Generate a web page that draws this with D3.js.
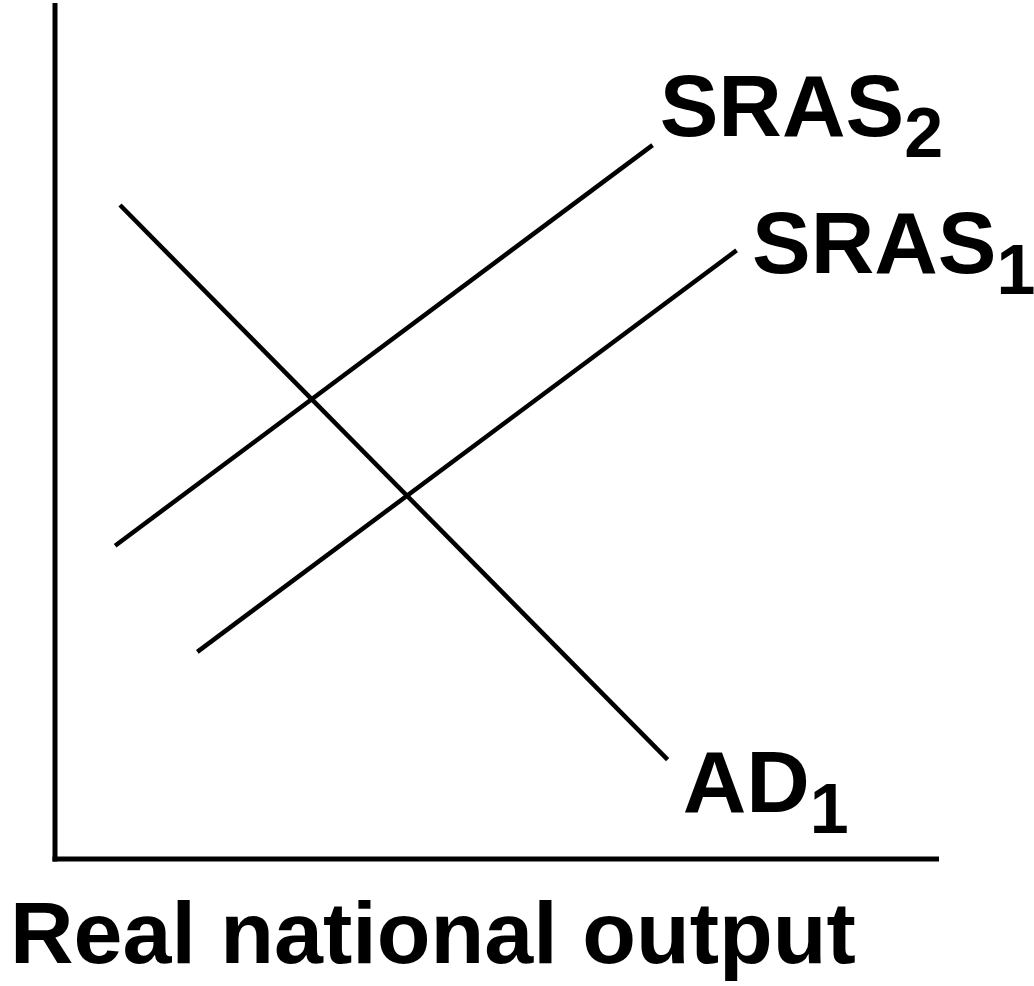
<!DOCTYPE html>
<html>
<head>
<meta charset="utf-8">
<script src="https://cdn.jsdelivr.net/npm/d3@7"></script>
<style>
  html, body { margin: 0; padding: 0; background: #fff; }
  svg { display: block; }
  text { font-family: "Liberation Sans", Arial, sans-serif; font-weight: bold; fill: #000; }
</style>
</head>
<body>
<div id="chart"></div>
<script>
// curves, in 0-100 chart units (x = output, y = price level)
const adCurve = [[7.35, 76.4], [69.3, 11.6]];
const sras2Curve = [[6.8, 36.6], [67.6, 83.4]];
const sras1Curve = [[16.1, 24.2], [77.1, 71.1]];

// labels: [name, subscript, x, y of baseline]
const curveLabels = [
  ["SRAS", "2", 68.4, 84.5],
  ["SRAS", "1", 78.85, 68.4],
  ["AD", "1", 71.0, 5.5]
];
const xTitle = "Real national output";

const svgWidth = 1034, svgHeight = 986;
const svg = d3.select("#chart").append("svg")
  .attr("width", svgWidth)
  .attr("height", svgHeight);

let x = d3.scaleLinear().domain([0, 100]).range([55, 939]);
let y = d3.scaleLinear().domain([0, 100]).range([859, 3]);

// axes as plain lines (no ticks)
svg.append("line")
  .attr("x1", x(0)).attr("x2", x(0))
  .attr("y1", y(100)).attr("y2", y(0) + 2.5)
  .attr("stroke", "#000").attr("stroke-width", 5);
svg.append("line")
  .attr("x1", x(0) - 2.5).attr("x2", x(100))
  .attr("y1", y(0)).attr("y2", y(0))
  .attr("stroke", "#000").attr("stroke-width", 5);

const line = d3.line().x(d => x(d[0])).y(d => y(d[1]));

svg.append("g")
  .selectAll("path")
  .data([adCurve, sras2Curve, sras1Curve])
  .join("path")
  .attr("d", line)
  .attr("fill", "none")
  .attr("stroke", "#000")
  .attr("stroke-width", 4.5);

const lbl = svg.append("g")
  .selectAll("text")
  .data(curveLabels)
  .join("text")
  .attr("x", d => x(d[2]))
  .attr("y", d => y(d[3]))
  .style("font-size", "88px");
lbl.append("tspan").text(d => d[0]);
lbl.append("tspan")
  .attr("dy", 21)
  .style("font-size", "70px")
  .text(d => d[1]);

svg.append("text")
  .attr("x", 10)
  .attr("y", 963)
  .style("font-size", "88px")
  .text(xTitle);
</script>
</body>
</html>
